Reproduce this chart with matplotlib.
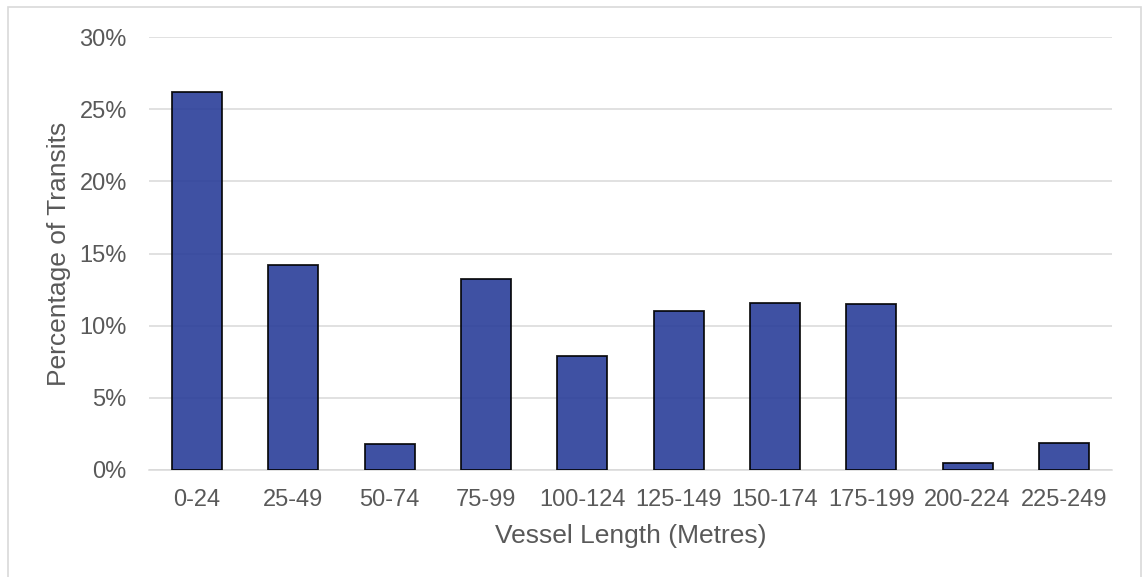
import numpy as np
import matplotlib.pyplot as plt
from matplotlib.patches import Rectangle
from matplotlib.ticker import FuncFormatter

plt.rcParams['font.family'] = ['Liberation Sans', 'DejaVu Sans']

categories = ['0-24', '25-49', '50-74', '75-99', '100-124',
              '125-149', '150-174', '175-199', '200-224', '225-249']
pct_transits = [26.2, 14.2, 1.8, 13.2, 7.9, 11.0, 11.6, 11.5, 0.5, 1.9]

text_col = '#595959'
grid_col = '#d9d9d9'

fig = plt.figure(figsize=(11.43, 5.77), dpi=100)
W, H = 1143, 577
# plot area in pixels: left 149, right 1112, top 37, bottom 470
ax = fig.add_axes([149 / W, 1 - 470 / H, (1112 - 149) / W, (470 - 37) / H])

x = np.arange(len(categories))
ax.bar(x, pct_transits, width=0.52, color='#2a3e99', alpha=0.9,
       edgecolor='black', linewidth=1.3, zorder=3)

ax.set_xlim(-0.5, len(categories) - 0.5)
ax.set_ylim(0, 30)
ax.set_yticks(np.arange(0, 31, 5))
ax.yaxis.set_major_formatter(FuncFormatter(lambda v, p: '%d%%' % v))
ax.set_xticks(x)
ax.set_xticklabels(categories)

ax.grid(axis='y', color=grid_col, linewidth=1.1, zorder=0)
ax.set_axisbelow(True)
for s in ['top', 'right', 'left']:
    ax.spines[s].set_visible(False)
ax.spines['bottom'].set_color(grid_col)
ax.spines['bottom'].set_linewidth(1.1)
ax.tick_params(axis='both', length=0, labelsize=17, colors=text_col)
ax.tick_params(axis='x', pad=14)
ax.tick_params(axis='y', pad=16)

ax.set_xlabel('Vessel Length (Metres)', fontsize=19, color=text_col, labelpad=9)
ax.set_ylabel('Percentage of Transits', fontsize=19, color=text_col, labelpad=6)

# light frame around the chart
fig.patches.append(Rectangle((8 / W, -0.05), (1141 - 8) / W, 1 - 7 / H + 0.05,
                             transform=fig.transFigure, fill=False,
                             edgecolor=grid_col, linewidth=1.2))

fig.savefig('out.png', dpi=100)
